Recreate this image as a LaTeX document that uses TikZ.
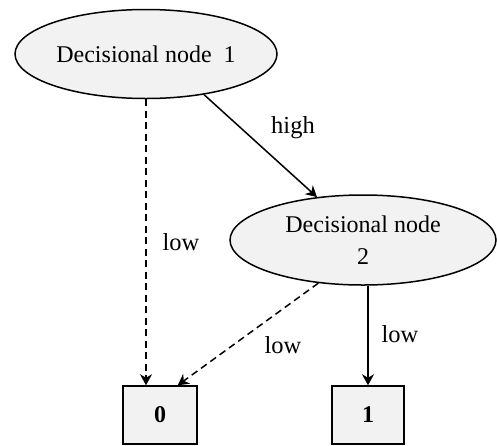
\documentclass[tikz,border=0pt]{standalone}
\usepackage{fontspec}
\setmainfont{Liberation Serif}
\usetikzlibrary{shapes.geometric,arrows.meta}
\definecolor{nodefill}{HTML}{F2F2F2}
\tikzset{
  dnode/.style={ellipse,draw,line width=1.5pt,fill=nodefill,inner sep=0pt,align=center,font=\fontsize{24}{32}\selectfont},
  leaf/.style={rectangle,draw,line width=1.5pt,fill=nodefill,inner sep=0pt,font=\fontsize{24}{28}\selectfont\bfseries},
  lbl/.style={anchor=base,inner sep=0pt,font=\fontsize{24.5}{28}\selectfont},
  conn/.style={line width=1.5pt,-{Stealth[length=11pt,width=12pt,inset=3.5pt]}},
  dconn/.style={conn,dash pattern=on 7pt off 4.5pt}
}
\begin{document}
\begin{tikzpicture}[x=1pt,y=-1pt]
\useasboundingbox (0,0) rectangle (497,445);
\node[dnode,minimum width=262pt,minimum height=89pt] (n1) at (146,54) {Decisional node\ \ 1};
\node[dnode,minimum width=266pt,minimum height=90pt] (n2) at (363,240) {Decisional node\\2};
\node[leaf,minimum width=74pt,minimum height=58pt] (b0) at (160,415) {0};
\node[leaf,minimum width=72pt,minimum height=58pt] (b1) at (368,415) {1};
\draw[dconn] (n1.south) -- (n1.south |- b0.north);
\draw[conn] (n1.-35) -- (n2.137);
\draw[dconn] (n2.-136) -- ([xshift=-20pt]b0.north east);
\draw[conn] (b1.north |- n2.south) -- (b1.north);
\node[lbl] (lhigh) at (293,133) {high};
\node[lbl] (llow1) at (181,250) {low};
\node[lbl] (llow2) at (283,353) {low};
\node[lbl] (llow3) at (400,342) {low};
\end{tikzpicture}
\end{document}
